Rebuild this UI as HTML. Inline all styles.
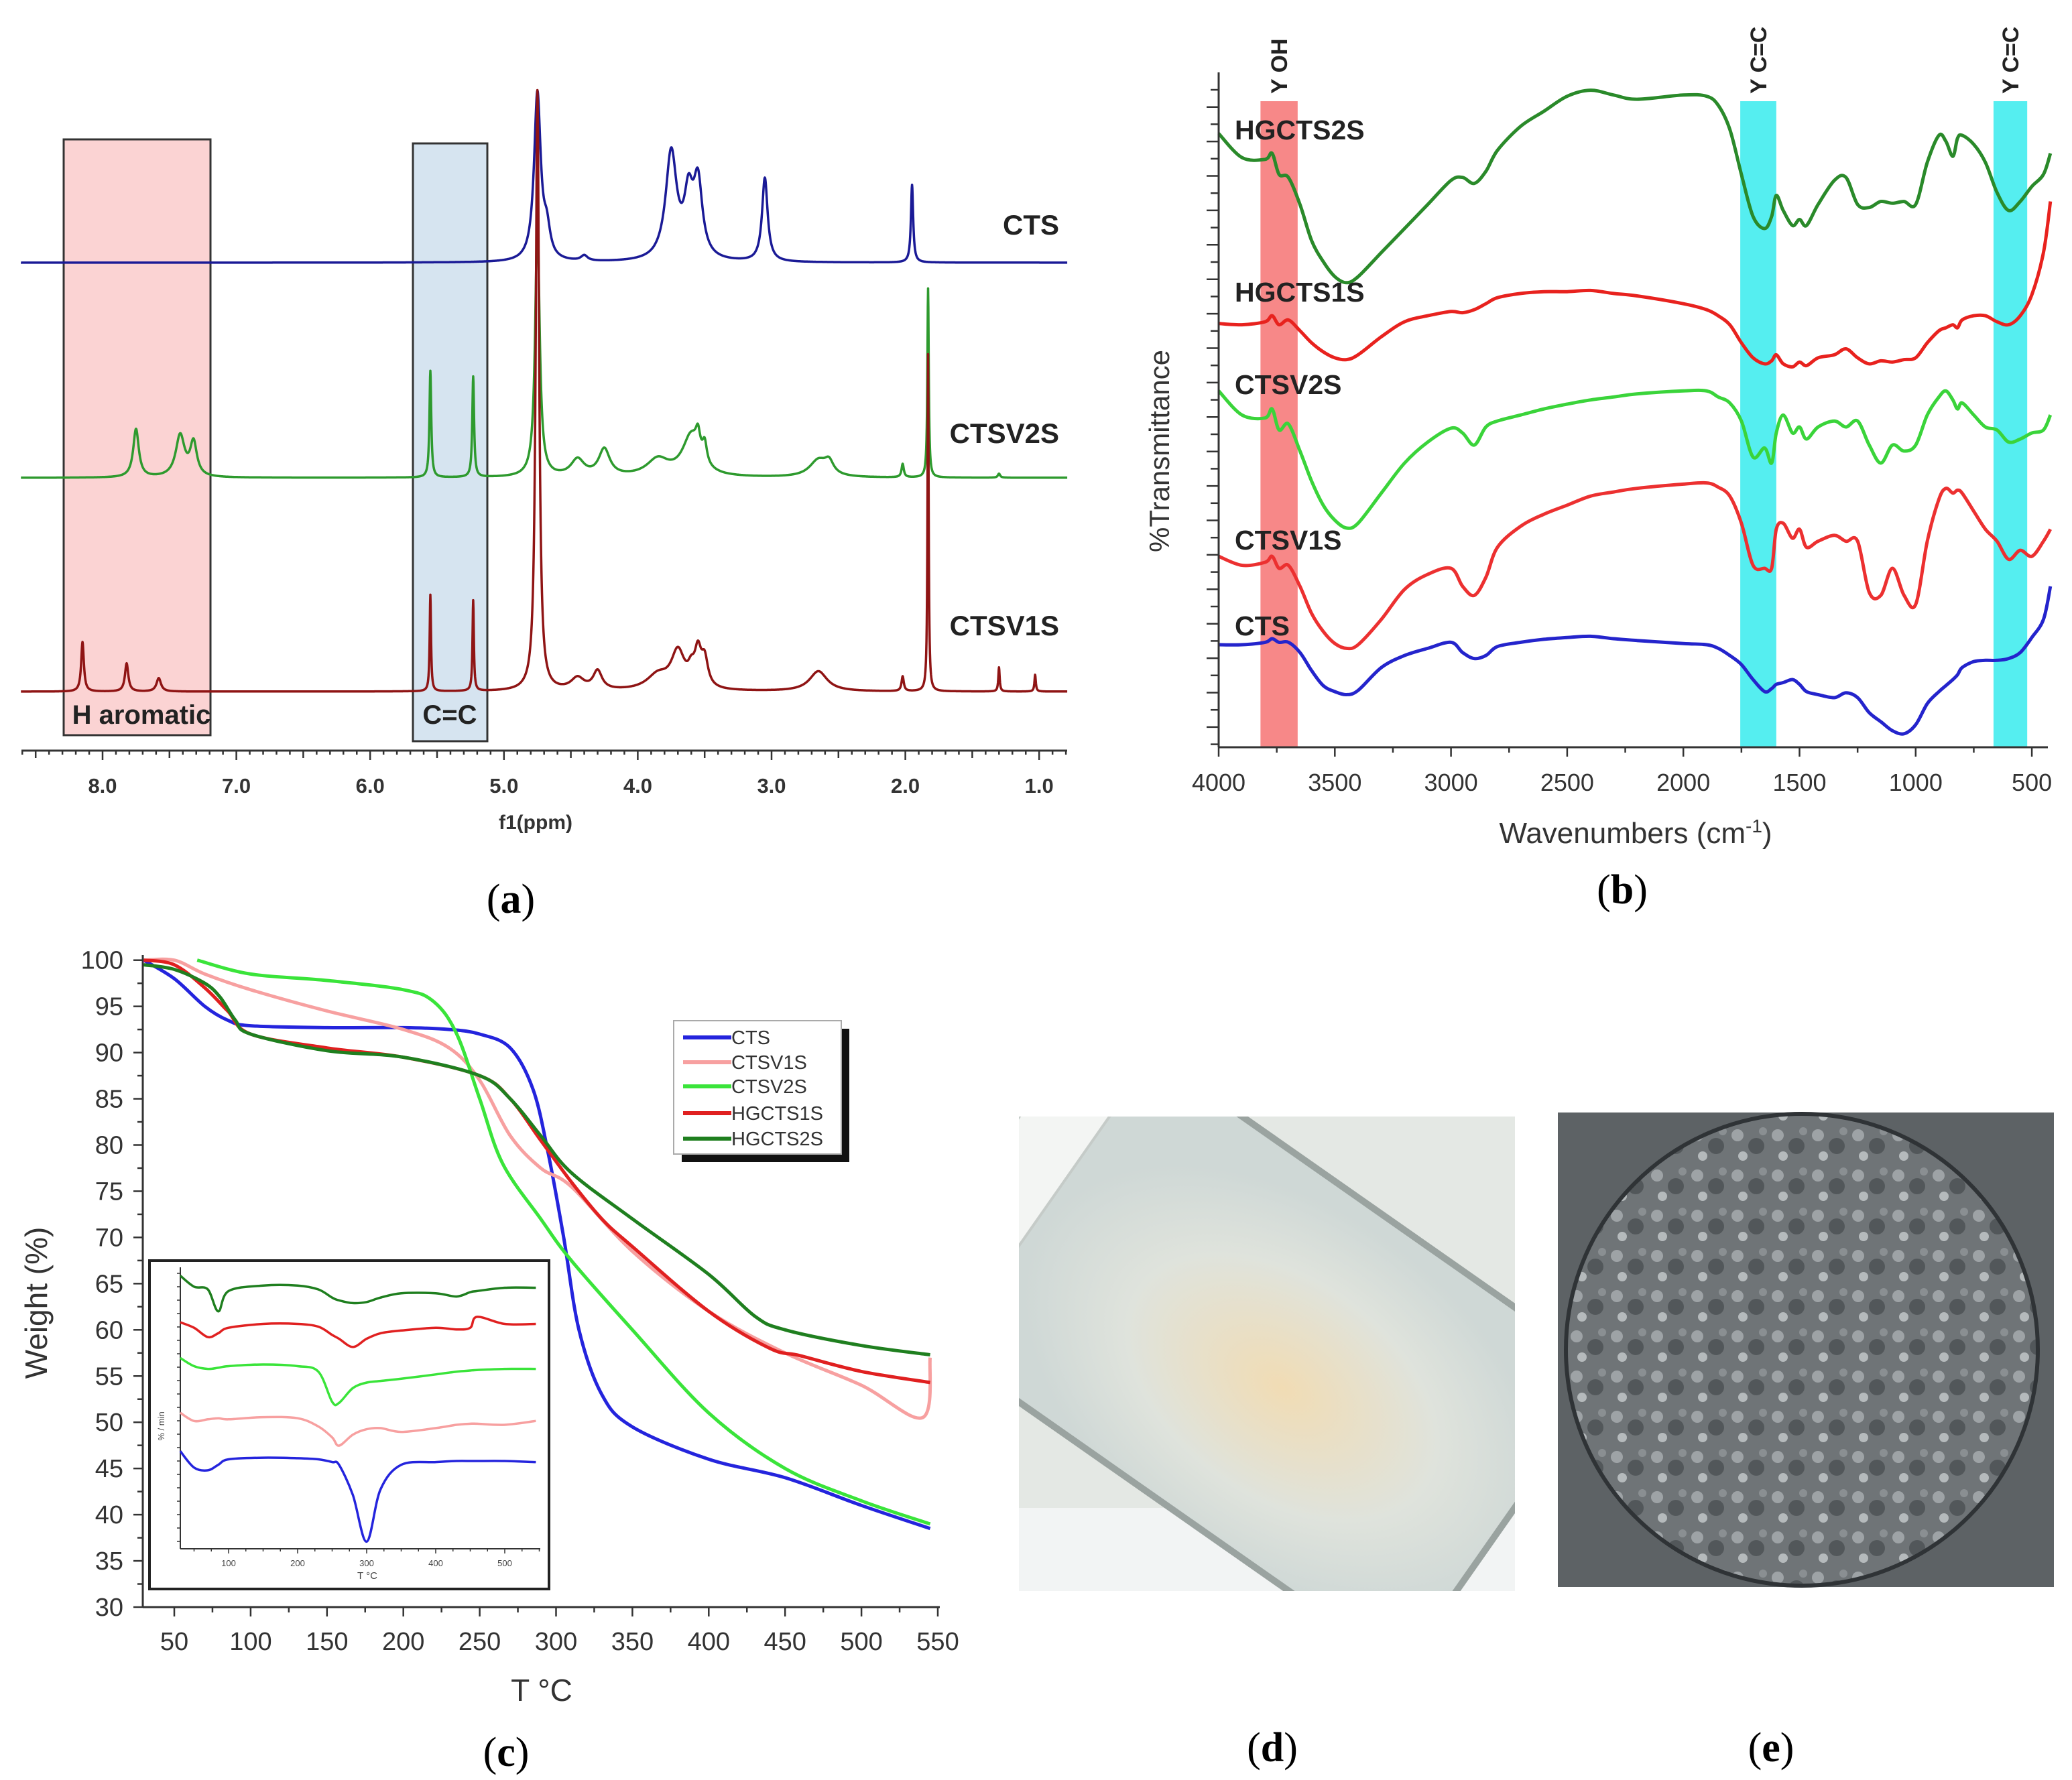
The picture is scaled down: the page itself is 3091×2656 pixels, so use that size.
<!DOCTYPE html>
<html><head><meta charset="utf-8">
<style>
html,body{margin:0;padding:0;background:#fff;}
svg{display:block;}
text{font-family:"Liberation Sans",Arial,sans-serif;}
.serif{font-family:"Liberation Serif",serif;}
</style></head>
<body>
<svg id="fig" width="3091" height="2656" viewBox="0 0 3091 2656" xmlns="http://www.w3.org/2000/svg">
  <defs>
    <radialGradient id="jarGlow" cx="0.55" cy="0.55" r="0.5">
      <stop offset="0" stop-color="#f1dcb4"/>
      <stop offset="0.6" stop-color="#dfe3dc"/>
      <stop offset="1" stop-color="#cfd8d6"/>
    </radialGradient>
    <pattern id="texture" width="60" height="60" patternUnits="userSpaceOnUse">
      <rect width="60" height="60" fill="#6f7477"/>
      <circle cx="12" cy="14" r="9" fill="#9ea3a6"/>
      <circle cx="40" cy="30" r="12" fill="#52575a"/>
      <circle cx="20" cy="45" r="7" fill="#b5babc"/>
      <circle cx="50" cy="8" r="6" fill="#8a8f92"/>
    </pattern>
    <clipPath id="clipD"><rect x="1520" y="1666" width="740" height="708"/></clipPath>
  </defs>
  <g id="panelA"></g>
  <g id="panelB"></g>
  <g id="panelC"></g>

  <g clip-path="url(#clipD)">
    <rect x="1520" y="1666" width="740" height="708" fill="#e4e8e4"/>
    <rect x="1520" y="2250" width="740" height="124" fill="#f2f4f4"/>
    <g transform="rotate(35 1880 1990)">
      <rect x="1480" y="1740" width="860" height="540" rx="50" fill="url(#jarGlow)" stroke="#9aa3a0" stroke-width="10"/>
      <rect x="1400" y="1770" width="110" height="480" fill="#f3f5f3" stroke="#c5cbc8" stroke-width="4"/>
    </g>
  </g>
  <g>
    <rect x="2324" y="1660" width="740" height="708" fill="#5d6265"/>
    <ellipse cx="2688" cy="2014" rx="352" ry="352" fill="url(#texture)" stroke="#2f3336" stroke-width="6"/>
  </g>
  <text x="1898" y="2628" class="serif" font-size="62" text-anchor="middle">(<tspan font-weight="bold">d</tspan>)</text>
  <text x="2642" y="2628" class="serif" font-size="62" text-anchor="middle">(<tspan font-weight="bold">e</tspan>)</text>
</svg>

<script>
// ===================== DATA =====================
const nmrCTSPeaks = [[4.75,250,0.03],[4.68,40,0.03],[4.4,8,0.03],[3.75,160,0.05],[3.62,85,0.04],[3.55,110,0.04],[3.05,125,0.025],[1.95,116,0.01]];
const nmrCTSV2SPeaks = [[7.75,72,0.025],[7.42,62,0.04],[7.32,50,0.03],[5.55,159,0.008],[5.23,150,0.008],[4.75,380,0.02],[4.45,25,0.06],[4.25,40,0.05],[3.85,25,0.1],[3.6,60,0.08],[3.55,30,0.02],[3.5,30,0.02],[2.65,25,0.08],[2.57,18,0.04],[2.02,20,0.01],[1.83,282,0.006],[1.3,6,0.01]];
const nmrCTSV1SPeaks = [[8.15,74,0.012],[7.82,42,0.015],[7.58,20,0.02],[5.55,144,0.006],[5.23,135,0.006],[4.75,896,0.015],[4.45,18,0.06],[4.3,28,0.04],[3.85,22,0.1],[3.7,55,0.06],[3.6,20,0.03],[3.55,50,0.03],[3.5,40,0.03],[2.65,30,0.08],[2.02,22,0.01],[1.83,503,0.005],[1.3,36,0.006],[1.03,25,0.006]];
const nmrTicks = ["8.0","7.0","6.0","5.0","4.0","3.0","2.0","1.0"];

const ftirWavenumbers = [4000,3900,3800,3770,3740,3700,3650,3600,3550,3500,3450,3400,3300,3200,3100,3000,2950,2900,2850,2800,2700,2600,2500,2400,2300,2200,2000,1900,1850,1800,1750,1700,1650,1620,1600,1570,1530,1500,1470,1420,1350,1300,1250,1200,1150,1100,1050,1000,950,900,870,840,820,800,750,700,650,600,550,500,450,420];
const ftirHGCTS2S = [107.8,103.8,103.5,104.5,101,100.5,96,90,86.5,84,83,84,88,92,96,100,100.5,99.5,101.5,105,109,111.5,114,115,114.2,113.5,114.2,114,112.5,108.5,101,94,92,94,97.5,95,92.5,93.5,92.5,96,100,100.5,96,95.5,96.5,96.2,96.5,96,103,107.5,106.5,104,107,107.5,106,103,98,95,96.5,99,101,104.5];
const ftirHGCTS1S = [76.2,76,76.5,77.5,76,76.8,75,73,71.5,70.5,70.2,71,74,76.5,77.5,78.2,78,78.5,79.5,80.5,81.2,81.5,81.5,81.7,81.2,80.8,79.5,78.5,77.5,76,73,70.5,69.5,70,71,69.5,69,69.8,69.2,70.5,71,72,70.5,69.5,70,69.8,70.2,70.5,73,75,75.5,76,75.5,76.8,77.5,77.5,76.5,76,77.5,81,88,96.5];
const ftirCTSV2S = [65,61,60.5,62,58.5,59.5,55,50,46,43.5,42.2,43,48,53,56.5,58.8,58,56,59,60,61,62,62.8,63.5,64,64.5,65,65,64,63,60,54,55.5,53,58,61,58,59,57,59,60,59,60,56,53,56,55,56,61,64,65,63.5,62,63,61,59,58.5,56.5,57,58,58.5,61];
const ftirCTSV1S = [37.5,36,36.5,37.5,35.5,36,32.5,28,25,23,22.2,22.8,27,32,34.5,35.5,32.5,31,34,39,42.5,44.5,46,47.5,48.2,48.8,49.5,49.7,49,47.5,43,36,35.5,35.5,42,43,40.5,42,39,40,41,40,40,31.5,31,35.5,31,29.5,40,47,48.8,48,48.5,48,45,42,40,37,38.5,37.5,40,42];
const ftirCTS = [22.8,22.8,23.2,23.8,23.2,23.2,21.5,18.5,16,15,14.5,15.2,19,21,22.2,23.2,21.5,20.5,21,22.5,23.2,23.7,24,24.2,23.8,23.5,23,22.8,22.2,21,19.5,17,15,15.5,16.2,16.5,17,16.2,15,14.5,14,14.8,14,11.5,10,8.5,8,9.5,13,15,16,17,17.8,19,20,20.2,20.2,20.5,21.5,24,27,32.5];
const ftirTicks = [4000,3500,3000,2500,2000,1500,1000,500];
const ftirBands = [[3820,3660,"Y OH"],[1755,1600,"Y C=C"],[665,520,"Y C=C"]];

const tgaCTS_T = [30,50,70,85,100,150,200,230,250,270,285,295,305,315,330,350,400,450,500,545];
const tgaCTS_W = [100,98,95,93.5,92.9,92.7,92.7,92.5,92,90.5,86,79,70,60,53,49.5,46,44,41,38.5];
const tgaCTSV1S_T = [30,50,70,100,150,200,230,250,270,290,310,350,400,450,500,540,545];
const tgaCTSV1S_W = [100,100,98.5,96.8,94.5,92.5,90.5,87,81,77.5,75.5,68.5,62,57.5,54,50.5,57];
const tgaCTSV2S_T = [65,100,150,200,220,235,250,265,290,310,350,400,450,500,545];
const tgaCTSV2S_W = [100,98.5,97.8,96.8,95.5,92,85,78,72,67.5,60,51,45,41.5,39];
const tgaHGCTS1S_T = [30,50,70,85,100,150,200,250,270,290,310,330,350,400,440,460,500,545];
const tgaHGCTS1S_W = [100,99.5,97,94.5,92,90.5,89.5,87.5,85,80.5,76,72,69,62,58,57.2,55.5,54.3];
const tgaHGCTS2S_T = [30,50,70,80,90,100,150,200,250,270,290,310,350,400,430,450,500,545];
const tgaHGCTS2S_W = [99.5,99,97.5,96,93.5,92,90.2,89.5,87.5,85,81,77,72,66,61.5,60,58.3,57.3];
const tgaYTicks = [30,35,40,45,50,55,60,65,70,75,80,85,90,95,100];
const tgaXTicks = [50,100,150,200,250,300,350,400,450,500,550];
const tgaSeriesNames = ["CTS","CTSV1S","CTSV2S","HGCTS1S","HGCTS2S"];

const dtgT = [30,50,70,85,100,150,200,230,250,260,280,300,320,350,400,430,450,460,500,545];
const dtgHGCTS2S = [51,49,48.5,44.5,48.2,49.2,49.2,48.5,47,46.5,46,46.2,47,47.8,47.8,47.2,48,48.2,48.8,48.8];
const dtgHGCTS1S = [42.5,41.5,39.8,40.5,41.5,42.2,42.2,41.7,40.2,39.5,38,39.5,40.5,41,41.5,41.2,41.5,43.5,42.2,42.2];
const dtgCTSV2S = [36,34.5,34,34.2,34.5,34.8,34.5,33.5,28,27.8,30.5,31.5,31.8,32.2,33,33.5,33.7,33.8,34,34];
const dtgCTSV1S = [26,24.5,24.8,25,24.8,25.2,25,23.5,21.5,20,22,23,23.2,22.5,23.2,23.8,24,24,23.8,24.5];
const dtgCTS = [19,16,15.5,16.5,17.5,17.8,17.7,17.5,17,16.5,11,2.5,12,16.5,17,17.2,17.2,17.2,17.2,17];
const dtgTicks = [100,200,300,400,500];

// ===================== HELPERS =====================
const NS = "http://www.w3.org/2000/svg";
function mk(parent, tag, attrs, txt){
  const e = document.createElementNS(NS, tag);
  for (const k in attrs) e.setAttribute(k, attrs[k]);
  if (txt !== undefined) e.textContent = txt;
  parent.appendChild(e);
  return e;
}
function smoothPath(pts){
  if (pts.length < 2) return "";
  let d = "M" + pts[0][0].toFixed(1) + "," + pts[0][1].toFixed(1);
  for (let i = 0; i < pts.length - 1; i++){
    const p0 = pts[Math.max(0,i-1)], p1 = pts[i], p2 = pts[i+1], p3 = pts[Math.min(pts.length-1,i+2)];
    const c1x = p1[0] + (p2[0]-p0[0])/6, c1y = p1[1] + (p2[1]-p0[1])/6;
    const c2x = p2[0] - (p3[0]-p1[0])/6, c2y = p2[1] - (p3[1]-p1[1])/6;
    d += " C" + c1x.toFixed(1) + "," + c1y.toFixed(1) + " " + c2x.toFixed(1) + "," + c2y.toFixed(1) + " " + p2[0].toFixed(1) + "," + p2[1].toFixed(1);
  }
  return d;
}

// ===================== PANEL A: NMR =====================
(function(){
  const g = document.getElementById("panelA");
  const xP = p => 153 + (8 - p) * 199.6;
  const yI = (base, v) => base - v;
  let r = mk(g, "rect", {x:95, y:208, width:219, height:889, fill:"#fbd3d3", stroke:"#333", "stroke-width":3});
  
  
  r = mk(g, "rect", {x:616, y:214, width:111, height:892, fill:"#d6e4f0", stroke:"#333", "stroke-width":3});
  
  

  const traces = [[nmrCTSPeaks,392,"#1a1a96","CTS",335,"nmr-cts-trace"],[nmrCTSV2SPeaks,713,"#2e9a2e","CTSV2S",646,"nmr-ctsv2s-trace"],[nmrCTSV1SPeaks,1032,"#8f1414","CTSV1S",933,"nmr-ctsv1s-trace"]];
  traces.forEach(t => {
    let d = "";
    for (let p = 8.61; p >= 0.79; p -= 0.002){
      let v = 0;
      t[0].forEach(pk => { const dx = p - pk[0]; v += pk[1] * pk[2]*pk[2] / (dx*dx + pk[2]*pk[2]); });
      d += (d ? "L" : "M") + xP(p).toFixed(1) + "," + yI(t[1], v).toFixed(1);
    }
    const path = mk(g, "path", {d:d, fill:"none", stroke:t[2], "stroke-width":3.5, "stroke-linejoin":"round"});
    
    
    const lab = mk(g, "text", {x:1580, y:t[4]+15, "font-size":42, "font-weight":"bold", "text-anchor":"end", fill:"#222"}, t[3]);
    
    
  });
  let tx = mk(g, "text", {x:211, y:1080, "font-size":40, "font-weight":"bold", "text-anchor":"middle", fill:"#222"}, "H aromatic");
  
  
  tx = mk(g, "text", {x:671, y:1080, "font-size":40, "font-weight":"bold", "text-anchor":"middle", fill:"#222"}, "C=C");
  
  
  const ax = mk(g, "line", {x1:32, y1:1120, x2:1592, y2:1120, stroke:"#333", "stroke-width":3});
  
  
  for (let i = 0; i <= 78; i++){
    const p = 8.6 - i*0.1;
    const major = Math.abs(p - Math.round(p)) < 0.01, half = Math.abs(p*2 - Math.round(p*2)) < 0.01;
    const t = mk(g, "line", {x1:xP(p), y1:1120, x2:xP(p), y2:1120 + (major?14:(half?11:6)), stroke:"#333", "stroke-width":2.5});
    
    
  }
  nmrTicks.forEach(s => {
    const t = mk(g, "text", {x:xP(parseFloat(s)), y:1183, "font-size":31, "font-weight":"bold", "text-anchor":"middle", fill:"#333"}, s);
    
    
  });
  tx = mk(g, "text", {x:799, y:1237, "font-size":30, "font-weight":"bold", "text-anchor":"middle", fill:"#333"}, "f1(ppm)");
  
  
  tx = mk(g, "text", {x:762, y:1362, "font-size":62, "text-anchor":"middle", "class":"serif"});
  
  
  tx.innerHTML = '(<tspan font-weight="bold">a</tspan>)';
})();

// ===================== PANEL B: FTIR =====================
(function(){
  const g = document.getElementById("panelB");
  const xW = w => 1818 + (4000 - w) * 0.3466;
  const yT = v => 1166.6 - 8.974 * v;
  ftirBands.forEach((b, i) => {
    const r = mk(g, "rect", {x:xW(b[0]), y:151, width:xW(b[1]) - xW(b[0]), height:1115-151, fill: i===0 ? "#f78888" : "#55eef0"});
    
    
    const cx = (xW(b[0]) + xW(b[1]))/2 + 12;
    const t = mk(g, "text", {x:cx, y:140, "font-size":34, "font-weight":"bold", transform:"rotate(-90 " + cx + " 140)", fill:"#222"}, b[2]);
    
    
  });
  const series = [[ftirHGCTS2S,"#2a8a2a","HGCTS2S",193],[ftirHGCTS1S,"#e8221e","HGCTS1S",435],[ftirCTSV2S,"#3ad43a","CTSV2S",573],[ftirCTSV1S,"#ec3030","CTSV1S",805],[ftirCTS,"#2424cc","CTS",933]];
  series.forEach(s => {
    const pts = ftirWavenumbers.map((w, i) => [xW(w), yT(s[0][i])]);
    const p = mk(g, "path", {d:smoothPath(pts), fill:"none", stroke:s[1], "stroke-width":5, "stroke-linejoin":"round"});
    
    
    const t = mk(g, "text", {x:1842, y:s[3]+15, "font-size":41, "font-weight":"bold", fill:"#222"}, s[2]);
    
    
  });
  let l = mk(g, "line", {x1:1818, y1:108, x2:1818, y2:1115, stroke:"#333", "stroke-width":3});
  
  
  l = mk(g, "line", {x1:1818, y1:1115, x2:3055, y2:1115, stroke:"#333", "stroke-width":3});
  
  
  for (let y = 134, k = 0; y < 1115; y += 25.7, k++){
    const t = mk(g, "line", {x1:1818, y1:y, x2:1818 - (k%2 ? 18 : 12), y2:y, stroke:"#333", "stroke-width":2.5});
    
    
  }
  for (let w = 4000; w >= 450; w -= 250){
    const major = w % 500 === 0;
    const t = mk(g, "line", {x1:xW(w), y1:1115, x2:xW(w), y2:1115 + (major?14:8), stroke:"#333", "stroke-width":2.5});
    
    
  }
  ftirTicks.forEach(w => {
    const t = mk(g, "text", {x:xW(w), y:1180, "font-size":36, "text-anchor":"middle", fill:"#333"}, String(w));
    
    
  });
  let t = mk(g, "text", {x:2440, y:1258, "font-size":44, "text-anchor":"middle", fill:"#333"});
  t.innerHTML = 'Wavenumbers (cm<tspan dy="-16" font-size="28">-1</tspan><tspan dy="16">)</tspan>';
  
  
  t = mk(g, "text", {x:1744, y:673, "font-size":42, "text-anchor":"middle", transform:"rotate(-90 1744 673)", fill:"#333"}, "%Transmittance");
  
  
  t = mk(g, "text", {x:2420, y:1348, "font-size":62, "text-anchor":"middle", "class":"serif"});
  t.innerHTML = '(<tspan font-weight="bold">b</tspan>)';
  
  
})();

// ===================== PANEL C: TGA =====================
(function(){
  const g = document.getElementById("panelC");
  const xT = t => 260 + (t - 50) * 2.278;
  const yW = v => 2398 - (v - 30) * 13.79;
  const xi = t => 341 + (t - 100) * 1.03;
  const yi = v => 2320.7 - 8.18 * v;
  let l = mk(g, "line", {x1:213, y1:1425, x2:213, y2:2398, stroke:"#333", "stroke-width":3});
  
  
  l = mk(g, "line", {x1:213, y1:2398, x2:1402, y2:2398, stroke:"#333", "stroke-width":3});
  
  
  for (let v = 30; v <= 100; v += 2.5){
    const major = v % 5 === 0;
    const t = mk(g, "line", {x1:213, y1:yW(v), x2:213 - (major?14:8), y2:yW(v), stroke:"#333", "stroke-width":2.5});
    
    
  }
  for (let tt = 50; tt <= 550; tt += 25){
    const major = tt % 50 === 0;
    const t = mk(g, "line", {x1:xT(tt), y1:2398, x2:xT(tt), y2:2398 + (major?14:8), stroke:"#333", "stroke-width":2.5});
    
    
  }
  tgaYTicks.forEach(v => {
    const t = mk(g, "text", {x:184, y:yW(v)+13, "font-size":38, "text-anchor":"end", fill:"#333"}, String(v));
    
    
  });
  tgaXTicks.forEach(v => {
    const t = mk(g, "text", {x:xT(v), y:2462, "font-size":38, "text-anchor":"middle", fill:"#333"}, String(v));
    
    
  });
  let t = mk(g, "text", {x:70, y:1944, "font-size":46, "text-anchor":"middle", transform:"rotate(-90 70 1944)", fill:"#333"}, "Weight (%)");
  
  
  t = mk(g, "text", {x:808, y:2538, "font-size":46, "text-anchor":"middle", fill:"#333"}, "T °C");
  
  

  const colors = ["#2424dd","#f7a0a0","#3ae43a","#e02020","#1f7f1f"];
  const series = [[tgaCTS_T,tgaCTS_W],[tgaCTSV1S_T,tgaCTSV1S_W],[tgaCTSV2S_T,tgaCTSV2S_W],[tgaHGCTS1S_T,tgaHGCTS1S_W],[tgaHGCTS2S_T,tgaHGCTS2S_W]];
  series.forEach((s, i) => {
    const pts = s[0].map((tt, j) => [xT(tt), yW(s[1][j])]);
    const p = mk(g, "path", {d:smoothPath(pts), fill:"none", stroke:colors[i], "stroke-width":5, "stroke-linejoin":"round"});
    
    
  });

  let r = mk(g, "rect", {x:1017, y:1535, width:250, height:199, fill:"#111"});
  
  
  r = mk(g, "rect", {x:1005, y:1523, width:250, height:199, fill:"#fff", stroke:"#aaa", "stroke-width":2});
  
  
  const ly = [1548,1585,1621,1661,1699];
  tgaSeriesNames.forEach((n, i) => {
    const ln = mk(g, "line", {x1:1019, y1:ly[i], x2:1091, y2:ly[i], stroke:colors[i], "stroke-width":6});
    
    
    const tx = mk(g, "text", {x:1091, y:ly[i]+10, "font-size":29, fill:"#333"}, n);
    
    
  });

  r = mk(g, "rect", {x:223, y:1881, width:596, height:490, fill:"#fff", stroke:"#222", "stroke-width":4});
  
  
  l = mk(g, "line", {x1:269, y1:1891, x2:269, y2:2311, stroke:"#333", "stroke-width":2});
  
  
  l = mk(g, "line", {x1:269, y1:2311, x2:806, y2:2311, stroke:"#333", "stroke-width":2});
  
  
  for (let y = 1900; y < 2311; y += 20){
    const tk = mk(g, "line", {x1:269, y1:y, x2:264, y2:y, stroke:"#333", "stroke-width":1.5});
    
    
  }
  for (let tt = 50; tt <= 550; tt += 25){
    const tk = mk(g, "line", {x1:xi(tt), y1:2311, x2:xi(tt), y2:2311 + (tt%100===0?7:4), stroke:"#333", "stroke-width":1.5});
    
    
  }
  dtgTicks.forEach(v => {
    const tx = mk(g, "text", {x:xi(v), y:2337, "font-size":13, "text-anchor":"middle", fill:"#444"}, String(v));
    
    
  });
  t = mk(g, "text", {x:548, y:2356, "font-size":15, "text-anchor":"middle", fill:"#444"}, "T °C");
  
  
  t = mk(g, "text", {x:245, y:2128, "font-size":13, "text-anchor":"middle", transform:"rotate(-90 245 2128)", fill:"#444"}, "% / min");
  
  
  const dtg = [[dtgHGCTS2S,"#1f7f1f","hgcts2s"],[dtgHGCTS1S,"#e02020","hgcts1s"],[dtgCTSV2S,"#3ae43a","ctsv2s"],[dtgCTSV1S,"#f7a0a0","ctsv1s"],[dtgCTS,"#2424dd","cts"]];
  dtg.forEach(s => {
    const pts = dtgT.map((tt, j) => [xi(tt), yi(s[0][j])]);
    const p = mk(g, "path", {d:smoothPath(pts), fill:"none", stroke:s[1], "stroke-width":3.5});
    
    
  });
  t = mk(g, "text", {x:755, y:2635, "font-size":62, "text-anchor":"middle", "class":"serif"});
  t.innerHTML = '(<tspan font-weight="bold">c</tspan>)';
  
  
})();
</script>
</body></html>
